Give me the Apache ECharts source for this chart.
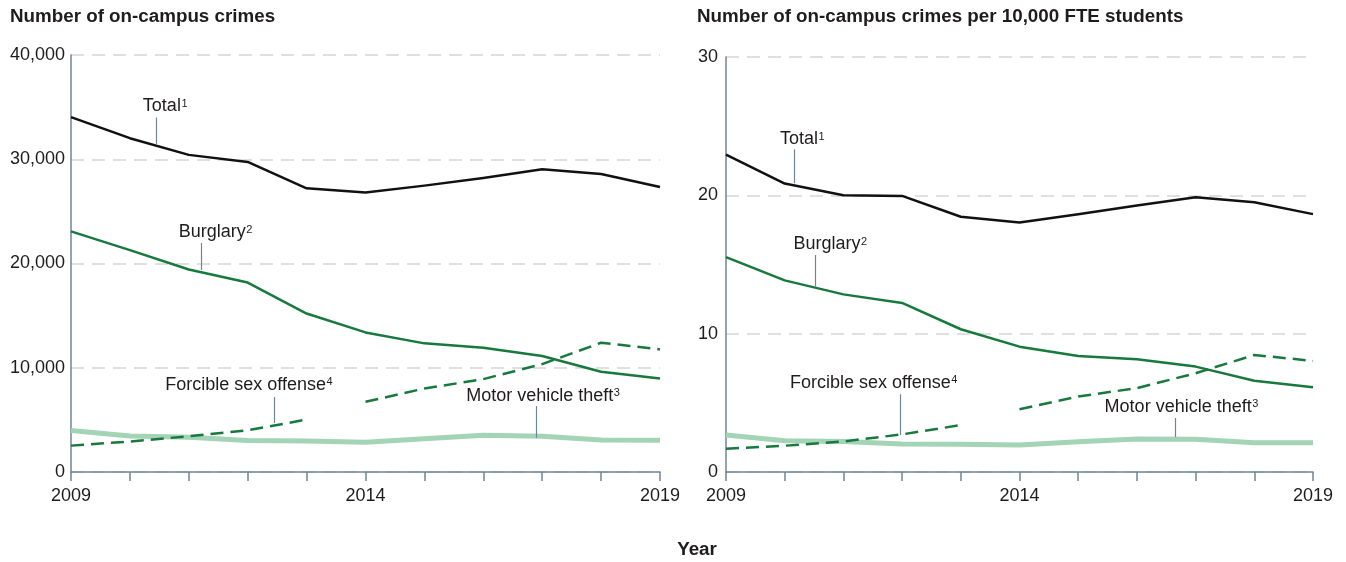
<!DOCTYPE html>
<html>
<head>
<meta charset="utf-8">
<script src="https://cdn.jsdelivr.net/npm/echarts@6/dist/echarts.min.js"></script>
<style>
  html, body { margin: 0; padding: 0; background: #fff; }
  #main { width: 1346px; height: 562px; }
</style>
</head>
<body>
<div id="main"></div>
<script>
// ---------- DATA ----------
const years = [2009, 2010, 2011, 2012, 2013, 2014, 2015, 2016, 2017, 2018, 2019];
const xTickLabels = [2009, 2014, 2019];

// Number of on-campus crimes
const totalCount    = [34040, 32020, 30420, 29740, 27210, 26800, 27470, 28200, 29040, 28590, 27340];
const burglaryCount = [23080, 21280, 19420, 18170, 15200, 13390, 12340, 11920, 11120, 9620, 8970];
const sexOffenseCountA = [2530, 2920, 3430, 4000, 5030];            // 2009-2013
const sexOffenseCountB = [6730, 8010, 8910, 10350, 12400, 11760];    // 2014-2019
const motorCount    = [3970, 3460, 3330, 3010, 2980, 2850, 3200, 3530, 3430, 3080, 3040];

// Number of on-campus crimes per 10,000 FTE students
const totalRate    = [22.95, 20.85, 20.01, 19.96, 18.45, 18.04, 18.64, 19.26, 19.86, 19.5, 18.64];
const burglaryRate = [15.53, 13.85, 12.84, 12.22, 10.32, 9.06, 8.39, 8.15, 7.62, 6.59, 6.13];
const sexOffenseRateA = [1.68, 1.9, 2.21, 2.72, 3.39];
const sexOffenseRateB = [4.54, 5.46, 6.06, 7.14, 8.46, 8.03];
const motorRate    = [2.67, 2.26, 2.21, 2.02, 2.0, 1.95, 2.19, 2.38, 2.36, 2.12, 2.12];

const leftTitle  = 'Number of on-campus crimes';
const rightTitle = 'Number of on-campus crimes per 10,000 FTE students';
const xTitle = 'Year';

// ---------- STYLE ----------
const FONT = '"Liberation Sans", Arial, Helvetica, sans-serif';
const AXIS = '#6f8595';
const TEXT = '#1f1c1d';
const C_TOTAL = '#111111';
const C_GREEN = '#17793d';
const C_LIGHT = '#a3d4b5';

// annotation anchors: [grid, main text, sup, textYear, textValue, leaderYear, leaderTopValue, leaderBottomValue]
const annotations = [
  [0, 'Total', '1', 2010.22, 35100, 2010.44, 34000, 31460],
  [0, 'Burglary', '2', 2010.83, 23020, 2011.20, 21960, 19380],
  [0, 'Forcible sex offense', '4', 2010.60, 8390, 2012.45, 7190, 4700],
  [0, 'Motor vehicle theft', '3', 2015.71, 7320, 2016.89, 6330, 3290],
  [1, 'Total', '1', 2009.92, 24.05, 2010.16, 23.33, 20.87],
  [1, 'Burglary', '2', 2010.15, 16.48, 2010.51, 15.69, 13.40],
  [1, 'Forcible sex offense', '4', 2010.09, 6.46, 2011.97, 5.62, 2.67],
  [1, 'Motor vehicle theft', '3', 2015.45, 4.72, 2016.65, 3.90, 2.53]
];

function pairs(vals, startIdx) {
  return vals.map((v, i) => [years[startIdx + i], v]);
}

function xAxisCfg(gridIndex) {
  return {
    type: 'value', gridIndex: gridIndex, min: 2009, max: 2019, interval: 1,
    axisLine: { show: true, lineStyle: { color: AXIS, width: 1.5 } },
    axisTick: { show: true, length: 9, lineStyle: { color: AXIS, width: 1.5 } },
    splitLine: { show: false },
    axisLabel: {
      margin: 15, color: TEXT, fontSize: 18, fontFamily: FONT,
      formatter: v => xTickLabels.indexOf(v) >= 0 ? String(v) : ''
    }
  };
}
function yAxisCfg(gridIndex, max, interval, margin) {
  return {
    type: 'value', gridIndex: gridIndex, min: 0, max: max, interval: interval,
    axisLine: { show: true, lineStyle: { color: AXIS, width: 1.5 } },
    axisTick: { show: false },
    splitLine: { show: true, lineStyle: { color: '#d6d6d6', width: 1.5, type: [13, 8] } },
    axisLabel: {
      margin: margin, color: TEXT, fontSize: 18, fontFamily: FONT,
      formatter: v => v.toLocaleString('en-US')
    }
  };
}
function line(name, gi, data, color, width, dashed, z) {
  return {
    name: name, type: 'line', xAxisIndex: gi, yAxisIndex: gi, data: data,
    symbol: 'none', silent: true, animation: false, z: z,
    lineStyle: { color: color, width: width, type: dashed ? [13, 7] : 'solid', cap: 'butt', join: 'round' }
  };
}

const chart = echarts.init(document.getElementById('main'), null, { renderer: 'canvas' });
chart.setOption({
  animation: false,
  textStyle: { fontFamily: FONT },
  grid: [
    { left: 71, right: 1346 - 660, top: 55, bottom: 562 - 472 },
    { left: 726, right: 1346 - 1313, top: 57, bottom: 562 - 472 }
  ],
  xAxis: [xAxisCfg(0), xAxisCfg(1)],
  yAxis: [yAxisCfg(0, 40000, 10000, 6), yAxisCfg(1, 30, 10, 8)],
  series: [
    line('Motor vehicle theft', 0, pairs(motorCount, 0), C_LIGHT, 5, false, 2),
    line('Forcible sex offense', 0, pairs(sexOffenseCountA, 0), C_GREEN, 2.5, true, 3),
    line('Forcible sex offense', 0, pairs(sexOffenseCountB, 5), C_GREEN, 2.5, true, 3),
    line('Burglary', 0, pairs(burglaryCount, 0), C_GREEN, 2.5, false, 4),
    line('Total', 0, pairs(totalCount, 0), C_TOTAL, 2.5, false, 5),
    line('Motor vehicle theft', 1, pairs(motorRate, 0), C_LIGHT, 5, false, 2),
    line('Forcible sex offense', 1, pairs(sexOffenseRateA, 0), C_GREEN, 2.5, true, 3),
    line('Forcible sex offense', 1, pairs(sexOffenseRateB, 5), C_GREEN, 2.5, true, 3),
    line('Burglary', 1, pairs(burglaryRate, 0), C_GREEN, 2.5, false, 4),
    line('Total', 1, pairs(totalRate, 0), C_TOTAL, 2.5, false, 5)
  ]
});

// ---------- annotations ----------
const ctx = document.createElement('canvas').getContext('2d');
function textWidth(str, size, weight) {
  ctx.font = (weight || 'normal') + ' ' + size + 'px ' + FONT;
  return ctx.measureText(str).width;
}
function txt(x, y, str, size, weight, align, valign) {
  return {
    type: 'text', x: x, y: y, silent: true, z: 100,
    style: {
      text: str, fontSize: size, fontWeight: weight || 'normal', fontFamily: FONT, fill: TEXT,
      align: align || 'left', verticalAlign: valign || 'middle',
      textAlign: align || 'left', textVerticalAlign: valign || 'middle'
    }
  };
}
const g = [];
annotations.forEach(a => {
  const gi = a[0];
  const tp = chart.convertToPixel({ gridIndex: gi }, [a[3], a[4]]);
  const lt = chart.convertToPixel({ gridIndex: gi }, [a[5], a[6]]);
  const lb = chart.convertToPixel({ gridIndex: gi }, [a[5], a[7]]);
  g.push({
    type: 'line', silent: true, z: 100,
    shape: { x1: Math.round(lt[0]) + 0.5, y1: lt[1], x2: Math.round(lt[0]) + 0.5, y2: lb[1] },
    style: { stroke: AXIS, lineWidth: 1.2 }
  });
  g.push(txt(tp[0], tp[1], a[1], 18));
  const w = textWidth(a[1], 18);
  g.push(txt(tp[0] + w + 0.5, tp[1] - 8, a[2], 11, 'normal', 'left', 'top'));
});
g.push(txt(10, 17, leftTitle, 18.8, 'bold'));
g.push(txt(697, 17, rightTitle, 18.8, 'bold'));
g.push(txt(697, 550, xTitle, 18.8, 'bold', 'center'));
chart.setOption({ graphic: g });
</script>
</body>
</html>
